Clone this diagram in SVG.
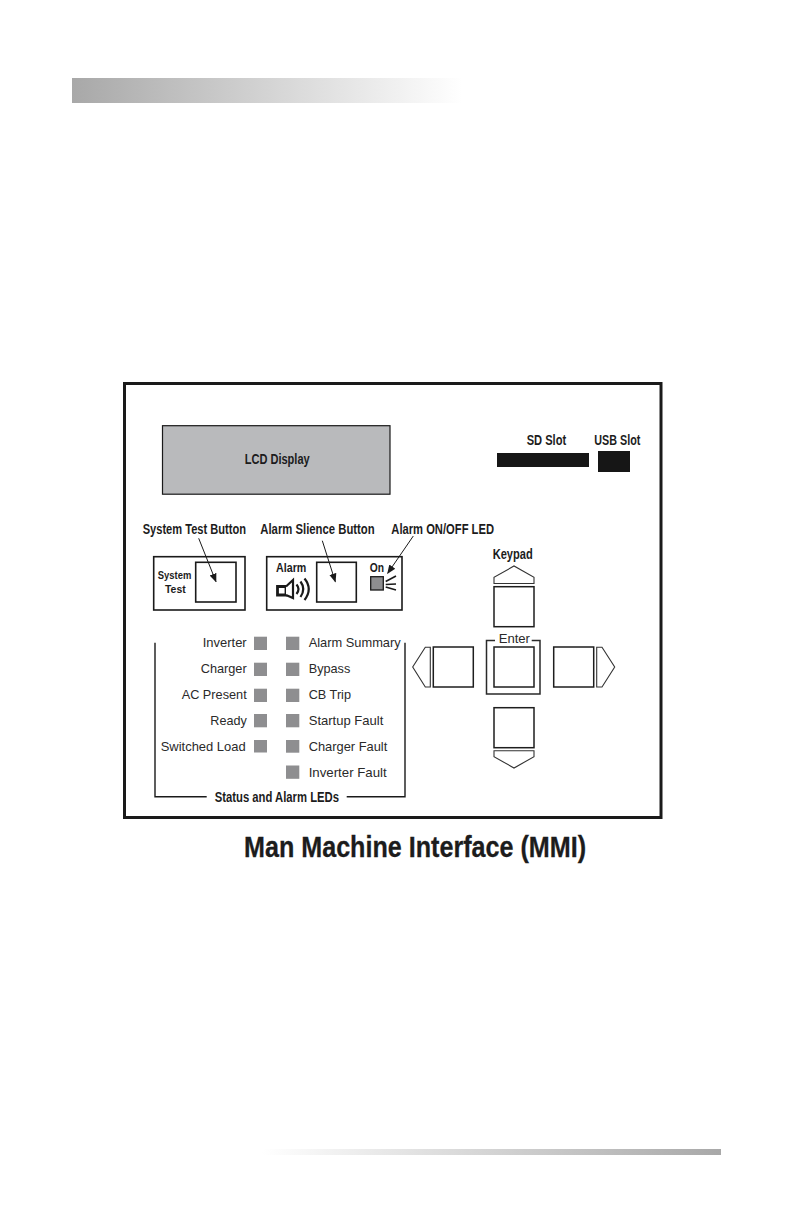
<svg xmlns="http://www.w3.org/2000/svg" width="792" height="1224" viewBox="0 0 792 1224">
<style>
text{font-family:"Liberation Sans",Arial,sans-serif;fill:#1c1c1c}
.b{font-weight:700;font-size:14px}
.r{font-size:13px;fill:#2a2a2a}
.box{fill:#fff;stroke:#1a1a1a;stroke-width:1.6}
.key{fill:#fff;stroke:#1e1e1e;stroke-width:1.5}
.arw{fill:#fff;stroke:#333;stroke-width:1.1}
.led{fill:#8e8e90}
.ln{fill:none;stroke:#1a1a1a;stroke-width:1.4}
</style>
<defs>
<linearGradient id="gh" x1="0" x2="1" y1="0" y2="0"><stop offset="0" stop-color="#a8a8a8"/><stop offset="1" stop-color="#fff"/></linearGradient>
<linearGradient id="gf" x1="0" x2="1" y1="0" y2="0"><stop offset="0" stop-color="#fff"/><stop offset="1" stop-color="#a8a8a8"/></linearGradient>
<marker id="ah" viewBox="0 0 10 10" refX="9" refY="5" markerWidth="9" markerHeight="9" markerUnits="userSpaceOnUse" orient="auto"><path d="M0 1L10 5L0 9Z" fill="#1a1a1a"/></marker>
</defs>
<rect width="792" height="1224" fill="#fff"/>
<rect x="72" y="78" width="390" height="25" fill="url(#gh)"/>
<rect x="262" y="1149" width="459" height="6" fill="url(#gf)"/>
<rect id="frame" x="124.5" y="383.5" width="536.5" height="434" fill="#fff" stroke="#1a1a1a" stroke-width="3"/>
<g id="lcd"><rect x="162.5" y="425.7" width="227.5" height="68.5" fill="#b9babc" stroke="#1a1a1a" stroke-width="1.2"/>
<text class="b" x="244.7" y="464.3" textLength="65" lengthAdjust="spacingAndGlyphs">LCD Display</text></g>
<g id="sd-slot"><rect x="497" y="453" width="92" height="14" fill="#161616"/>
<text class="b" x="526.7" y="444.7" textLength="39.5" lengthAdjust="spacingAndGlyphs">SD Slot</text></g>
<g id="usb-slot"><rect x="598" y="451" width="32" height="21" fill="#161616"/>
<text class="b" x="594.3" y="444.7" textLength="46" lengthAdjust="spacingAndGlyphs">USB Slot</text></g>
<g id="system-test"><rect class="box" x="153.7" y="556.7" width="91.3" height="53.3"/><rect class="box" x="195.7" y="562.3" width="40.3" height="39.7" stroke-width="1.8"/>
<text x="157.7" y="579" font-size="11" font-weight="700" textLength="33.6" lengthAdjust="spacingAndGlyphs">System</text>
<text x="165" y="592.7" font-size="11" font-weight="700" textLength="20.7" lengthAdjust="spacingAndGlyphs">Test</text>
<text class="b" x="142.7" y="534" textLength="103.3" lengthAdjust="spacingAndGlyphs">System Test Button</text></g>
<g id="alarm-silence"><rect class="box" x="266.7" y="556.7" width="135.3" height="53.3"/><rect class="box" x="316.7" y="562.3" width="39.6" height="39.7" stroke-width="1.8"/>
<text x="276" y="571.7" font-size="12" font-weight="700" textLength="30.3" lengthAdjust="spacingAndGlyphs">Alarm</text>
<text class="b" x="260.3" y="534" textLength="114.4" lengthAdjust="spacingAndGlyphs">Alarm Slience Button</text>
<path d="M277.5 586.5h8.5v8.5h-8.5z" fill="#fff" stroke="#1a1a1a" stroke-width="2.8"/>
<path d="M286 586.5L293 580V598L286 595" fill="#fff" stroke="#1a1a1a" stroke-width="2.2"/>
<path d="M296.5 584.5Q300.5 589 296.5 594M300.5 581.5Q306 589 300.5 597M304.5 578.5Q313 589 304.5 600" fill="none" stroke="#1a1a1a" stroke-width="2.2"/></g>
<g id="alarm-led"><rect x="370.7" y="576.7" width="12.6" height="13.3" fill="#8e8e90" stroke="#1a1a1a" stroke-width="1.3"/>
<text x="369.7" y="571.7" font-size="12" font-weight="700" textLength="14.3" lengthAdjust="spacingAndGlyphs">On</text>
<path d="M385.7 581.5L396 576M385.7 584.5L396 584M385.7 587L396 590" fill="none" stroke="#1a1a1a" stroke-width="1.6"/>
<text class="b" x="391.3" y="534" textLength="102.7" lengthAdjust="spacingAndGlyphs">Alarm ON/OFF LED</text></g>
<g id="connectors" fill="none" stroke="#1a1a1a" stroke-width="1">
<path d="M198.7 538.3L216 581.7" marker-end="url(#ah)"/>
<path d="M322.3 540.7L335.3 581.7" marker-end="url(#ah)"/>
<path d="M413.3 536L387.7 573.3" marker-end="url(#ah)"/>
</g>
<g id="keypad">
<text class="b" x="492.7" y="558.7" textLength="40" lengthAdjust="spacingAndGlyphs">Keypad</text>
<path class="arw" d="M494 583.5V577.3L514 566L534 577.3V583.5Z"/>
<rect class="key" x="494" y="586.7" width="40" height="40"/>
<path class="arw" d="M430.3 647.3H425.3L412.7 667L425.3 687H430.3Z"/>
<rect class="key" x="433.3" y="647" width="40" height="40"/>
<path d="M495 640.5H486.5V694H540V640.5H531.7" fill="none" stroke="#2a2a2a" stroke-width="1.5"/>
<text class="r" x="498.7" y="643.3" textLength="31.3" lengthAdjust="spacingAndGlyphs">Enter</text>
<rect class="key" x="494" y="647" width="40" height="40"/>
<rect class="key" x="553.7" y="647" width="40" height="40"/>
<path class="arw" d="M596.7 647.3H602L614.7 667L602 687H596.7Z"/>
<rect class="key" x="494" y="707.7" width="40" height="40"/>
<path class="arw" d="M494 750.7H534V756.7L514 768L494 756.7Z"/>
</g>
<g id="status-leds">
<path class="ln" d="M155 642.7V796.7H206.7M346.7 796.7H405V642.7"/>
<text class="b" x="214.7" y="802" textLength="124.3" lengthAdjust="spacingAndGlyphs">Status and Alarm LEDs</text>
<rect class="led" x="254" y="636.7" width="13" height="13.3"/>
<rect class="led" x="254" y="662.7" width="13" height="13.3"/>
<rect class="led" x="254" y="688.7" width="13" height="13.3"/>
<rect class="led" x="254" y="714" width="13" height="13.3"/>
<rect class="led" x="254" y="740" width="13" height="12.5"/>
<rect class="led" x="286" y="636.7" width="13.3" height="13.3"/>
<rect class="led" x="286" y="662.7" width="13.3" height="13.3"/>
<rect class="led" x="286" y="688.7" width="13.3" height="13.3"/>
<rect class="led" x="286" y="714" width="13.3" height="13.3"/>
<rect class="led" x="286" y="740" width="13.3" height="12.7"/>
<rect class="led" x="286" y="765.5" width="13.3" height="13.3"/>
<text class="r" x="202.7" y="646.7" textLength="44" lengthAdjust="spacingAndGlyphs">Inverter</text>
<text class="r" x="200.7" y="672.7" textLength="46" lengthAdjust="spacingAndGlyphs">Charger</text>
<text class="r" x="181.7" y="698.7" textLength="65" lengthAdjust="spacingAndGlyphs">AC Present</text>
<text class="r" x="210.3" y="725" textLength="36.4" lengthAdjust="spacingAndGlyphs">Ready</text>
<text class="r" x="160.7" y="751" textLength="85" lengthAdjust="spacingAndGlyphs">Switched Load</text>
<text class="r" x="308.7" y="646.7" textLength="92" lengthAdjust="spacingAndGlyphs">Alarm Summary</text>
<text class="r" x="308.7" y="672.7" textLength="41.6" lengthAdjust="spacingAndGlyphs">Bypass</text>
<text class="r" x="308.7" y="698.7" textLength="42.3" lengthAdjust="spacingAndGlyphs">CB Trip</text>
<text class="r" x="308.7" y="725" textLength="74.6" lengthAdjust="spacingAndGlyphs">Startup Fault</text>
<text class="r" x="308.7" y="751" textLength="78.6" lengthAdjust="spacingAndGlyphs">Charger Fault</text>
<text class="r" x="308.7" y="777" textLength="78" lengthAdjust="spacingAndGlyphs">Inverter Fault</text>
</g>
<text x="244" y="856.5" font-size="30" font-weight="700" stroke="#1c1c1c" stroke-width="0.3" textLength="342" lengthAdjust="spacingAndGlyphs">Man Machine Interface (MMI)</text>
</svg>
